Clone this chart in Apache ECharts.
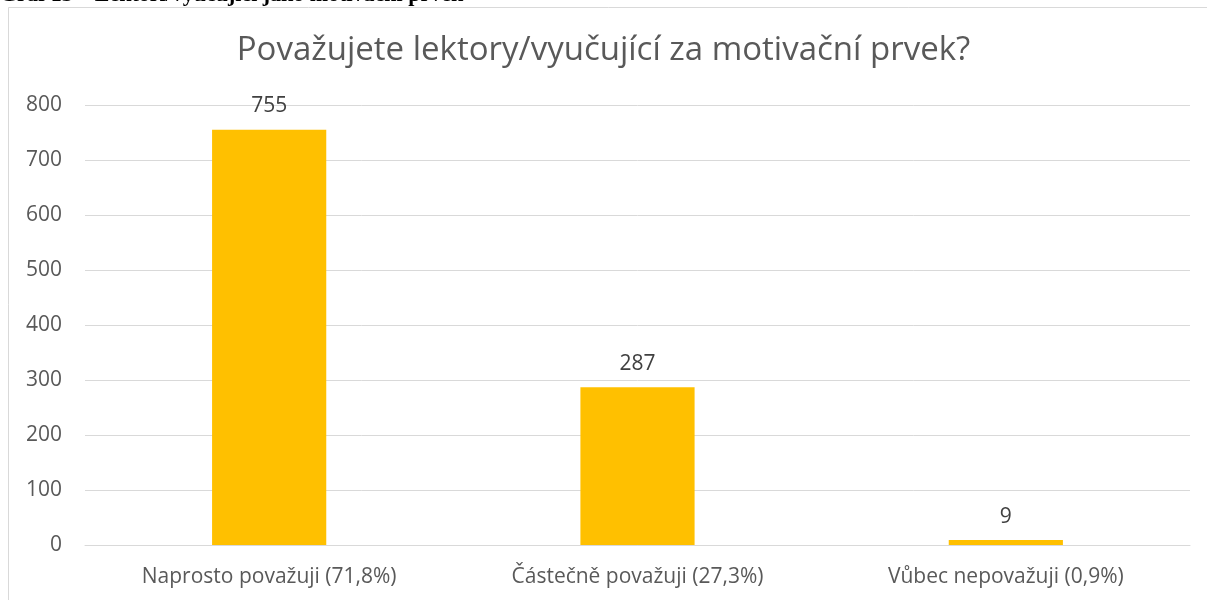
<!DOCTYPE html>
<html><head><meta charset="utf-8">
<script src="https://cdn.jsdelivr.net/npm/echarts@6/dist/echarts.min.js"></script>
<style>html,body{margin:0;padding:0;background:#fff;}#c{width:1207px;height:600px;}</style>
</head><body><div id="c"></div>
<script>
const categories = ['Naprosto považuji (71,8%)', 'Částečně považuji (27,3%)', 'Vůbec nepovažuji (0,9%)'];
const values = [755, 287, 9];
const yTicks = [0, 100, 200, 300, 400, 500, 600, 700, 800];
const titleText = 'Považujete lektory/vyučující za motivační prvek?';
const captionText = 'Graf 13 – Lektoři/vyučující jako motivační prvek';

const chart = echarts.init(document.getElementById('c'), null, {renderer: 'canvas'});
const font = '"Open Sans", "Noto Sans", sans-serif';
chart.setOption({
  animation: false,
  backgroundColor: '#fff',
  title: {
    text: titleText, left: 'center', top: 29,
    textStyle: {fontFamily: font, fontSize: 33, fontWeight: 'normal', color: '#595959'}
  },
  graphic: [
    {type: 'rect', shape: {x: 8.5, y: 7.5, width: 1210, height: 620}, style: {fill: 'none', stroke: '#d9d9d9', lineWidth: 1}, silent: true},
    {type: 'text', left: 0, top: -16, style: {text: captionText, font: 'bold 22px "Liberation Serif", "DejaVu Serif", serif', fill: '#000'}}
  ],
  grid: {left: 85, right: 17, top: 105, bottom: 55, containLabel: false},
  xAxis: {
    type: 'category', data: categories,
    axisLine: {lineStyle: {color: '#d9d9d9', width: 1}},
    axisTick: {show: false},
    axisLabel: {fontFamily: font, fontSize: 21, color: '#595959', margin: 22}
  },
  yAxis: {
    type: 'value', min: yTicks[0], max: yTicks[yTicks.length - 1], interval: 100,
    axisLine: {show: false}, axisTick: {show: false},
    splitLine: {lineStyle: {color: '#d9d9d9', width: 1}},
    axisLabel: {fontFamily: font, fontSize: 21, color: '#595959', margin: 23}
  },
  series: [{
    type: 'bar', data: values, barWidth: '31%',
    itemStyle: {color: '#FFC000'},
    label: {show: true, position: 'top', distance: 13, fontFamily: font, fontSize: 21, color: '#404040'}
  }]
});
</script></body></html>
